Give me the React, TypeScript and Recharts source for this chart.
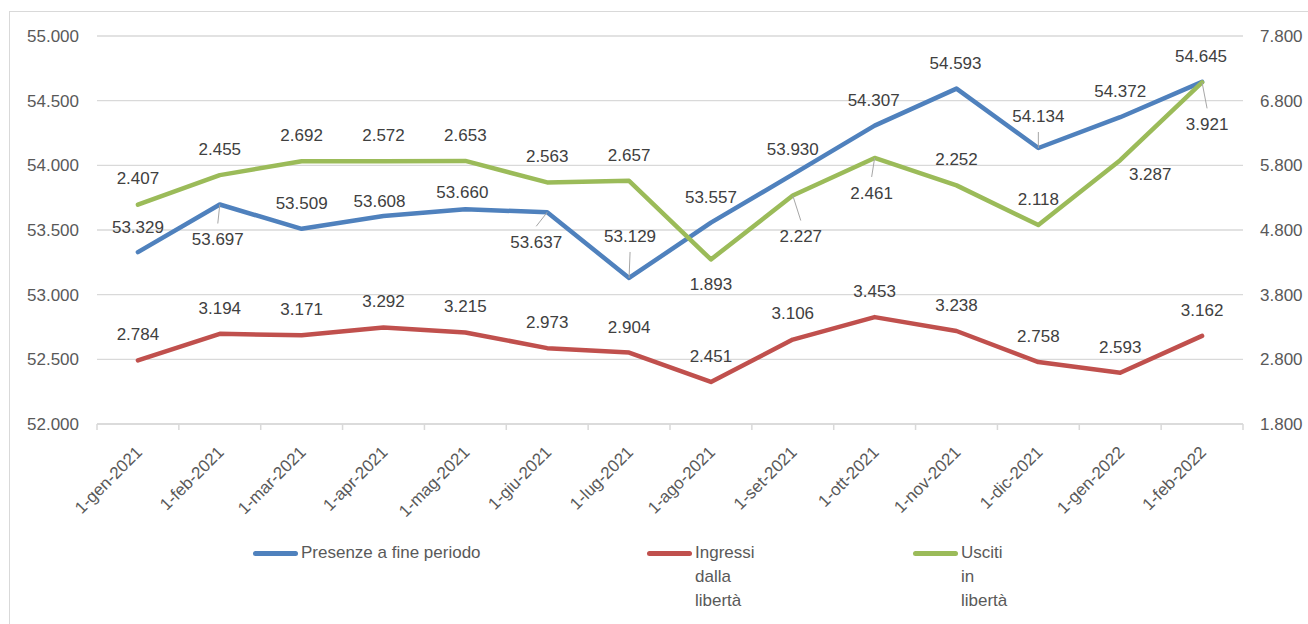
import React from 'react';
import { LineChart, Line, XAxis, YAxis, CartesianGrid } from 'recharts';

const months = [
  '1-gen-2021', '1-feb-2021', '1-mar-2021', '1-apr-2021', '1-mag-2021', '1-giu-2021', '1-lug-2021',
  '1-ago-2021', '1-set-2021', '1-ott-2021', '1-nov-2021', '1-dic-2021', '1-gen-2022', '1-feb-2022',
];
const presenze = [53329, 53697, 53509, 53608, 53660, 53637, 53129, 53557, 53930, 54307, 54593, 54134, 54372, 54645];
const ingressi = [2784, 3194, 3171, 3292, 3215, 2973, 2904, 2451, 3106, 3453, 3238, 2758, 2593, 3162];
const usciti = [2407, 2455, 2692, 2572, 2653, 2563, 2657, 1893, 2227, 2461, 2252, 2118, 3287, 3921];

const leftTicks = [52000, 52500, 53000, 53500, 54000, 54500, 55000];
const rightTicks = [1800, 2800, 3800, 4800, 5800, 6800, 7800];

const seriesNames = ['Presenze a fine periodo', 'Ingressi dalla libertà', 'Usciti in libertà'];
const colors = ['#4f81bd', '#c0504d', '#9bbb59'];

// label placement [dx, dy, leader line]
const bluePos: [number, number, boolean][] = [
  [0, -25, false], [-2, 35, true], [0, -26, false], [-4, -15, false], [-3, -17, false], [-11, 30, true],
  [1, -42, true], [0, -26, false], [0, -25, false], [-1, -26, false], [-1, -26, false], [0, -32, true],
  [0, -26, false], [-1, -26, false],
];
const greenPos: [number, number, boolean][] = [
  [0, -27, false], [0, -26, false], [0, -26, false], [0, -26, false], [0, -26, false], [0, -26, false],
  [0, -26, false], [0, 25, false], [8, 41, true], [-3, 35, true], [0, -26, false], [0, -26, false],
  [30, 14, false], [5, 42, true],
];

// Excel stacks the two secondary series
const data = months.map((m, i) => ({
  month: m,
  presenze: presenze[i],
  ingressi: ingressi[i],
  uscitiStack: ingressi[i] + usciti[i],
}));

const FONT = '"Liberation Sans", Arial, sans-serif';
const fmt = (n: number) => {
  const k = Math.floor(n / 1000);
  const r = String(n % 1000).padStart(3, '0');
  return `${k}.${r}`;
};

const W = 1308;
const H = 624;
const PLOT_L = 97;
const PLOT_R = 1243;
const HALF = (PLOT_R - PLOT_L) / months.length / 2;

const makeLabel = (values: number[], pos?: [number, number, boolean][]) => (props: any) => {
  const { x, y, index } = props;
  const [dx, dy, leader] = pos ? pos[index] : [0, -26, false];
  const lx = x + dx;
  const ly = y + dy;
  return (
    <g key={`lbl-${index}`}>
      {leader && (
        <line x1={x} y1={y} x2={lx} y2={ly - Math.sign(dy) * 16} stroke="#a6a6a6" strokeWidth={1} />
      )}
      <text x={lx} y={ly} dy="0.35em" textAnchor="middle" fontFamily={FONT} fontSize={17} fill="#404040">
        {fmt(values[index])}
      </text>
    </g>
  );
};

const XTick = (props: any) => {
  const { x, payload, index } = props;
  const y0 = 424;
  return (
    <g>
      <line x1={x - HALF} x2={x - HALF} y1={y0} y2={y0 + 6} stroke="#d9d9d9" strokeWidth={1.5} />
      {index === months.length - 1 && (
        <line x1={x + HALF} x2={x + HALF} y1={y0} y2={y0 + 6} stroke="#d9d9d9" strokeWidth={1.5} />
      )}
      <text
        transform={`translate(${x + 1},${y0 + 25}) rotate(-45)`}
        textAnchor="end"
        dy="0.35em"
        fontFamily={FONT}
        fontSize={17}
        fill="#595959"
      >
        {payload.value}
      </text>
    </g>
  );
};

export default function App() {
  return (
    <div style={{ position: 'absolute', left: 0, top: 0, width: W, height: H, background: '#fff', overflow: 'hidden' }}>
      <div
        style={{
          position: 'absolute',
          left: 9,
          top: 11,
          width: W,
          height: H,
          borderLeft: '1.5px solid #d9d9d9',
          borderTop: '1.5px solid #d9d9d9',
        }}
      />
      <div style={{ position: 'absolute', left: 0, top: 0 }}>
        <LineChart width={W} height={H} data={data} margin={{ top: 36, right: 1, bottom: 110, left: 10 }}>
          <CartesianGrid yAxisId="left" vertical={false} stroke="#d9d9d9" strokeWidth={1.3} />
          <XAxis
            dataKey="month"
            interval={0}
            height={90}
            padding={{ left: HALF, right: HALF }}
            axisLine={{ stroke: '#d9d9d9', strokeWidth: 1.5 }}
            tickLine={false}
            tickSize={0}
            tick={<XTick />}
          />
          <YAxis
            yAxisId="left"
            orientation="left"
            width={87}
            domain={[52000, 55000]}
            ticks={leftTicks}
            tickFormatter={fmt}
            axisLine={false}
            tickLine={false}
            tickSize={0}
            tickMargin={18}
            tick={{ fontFamily: FONT, fontSize: 17, fill: '#595959' }}
          />
          <YAxis
            yAxisId="right"
            orientation="right"
            width={64}
            domain={[1800, 7800]}
            ticks={rightTicks}
            tickFormatter={fmt}
            axisLine={false}
            tickLine={false}
            tickSize={0}
            tickMargin={17}
            tick={{ fontFamily: FONT, fontSize: 17, fill: '#595959', textAnchor: 'start' }}
          />
          <Line
            yAxisId="left"
            dataKey="presenze"
            stroke={colors[0]}
            strokeWidth={4.5}
            strokeLinecap="round"
            strokeLinejoin="round"
            dot={false}
            isAnimationActive={false}
            label={makeLabel(presenze, bluePos)}
          />
          <Line
            yAxisId="right"
            dataKey="ingressi"
            stroke={colors[1]}
            strokeWidth={4.5}
            strokeLinecap="round"
            strokeLinejoin="round"
            dot={false}
            isAnimationActive={false}
            label={makeLabel(ingressi)}
          />
          <Line
            yAxisId="right"
            dataKey="uscitiStack"
            stroke={colors[2]}
            strokeWidth={4.5}
            strokeLinecap="round"
            strokeLinejoin="round"
            dot={false}
            isAnimationActive={false}
            label={makeLabel(usciti, greenPos)}
          />
        </LineChart>
      </div>
      {[253, 647, 913].map((lx, i) => (
        <div key={seriesNames[i]} style={{ position: 'absolute', left: lx, top: 541, display: 'flex', fontFamily: FONT, fontSize: 17, color: '#595959' }}>
          <div style={{ width: 45, height: 4.5, borderRadius: 3, background: colors[i], marginTop: 10 }} />
          <div style={{ marginLeft: 3, lineHeight: '24px' }}>
            {i === 0
              ? seriesNames[i]
              : seriesNames[i].split(' ').map((w) => <div key={w}>{w}</div>)}
          </div>
        </div>
      ))}
    </div>
  );
}
